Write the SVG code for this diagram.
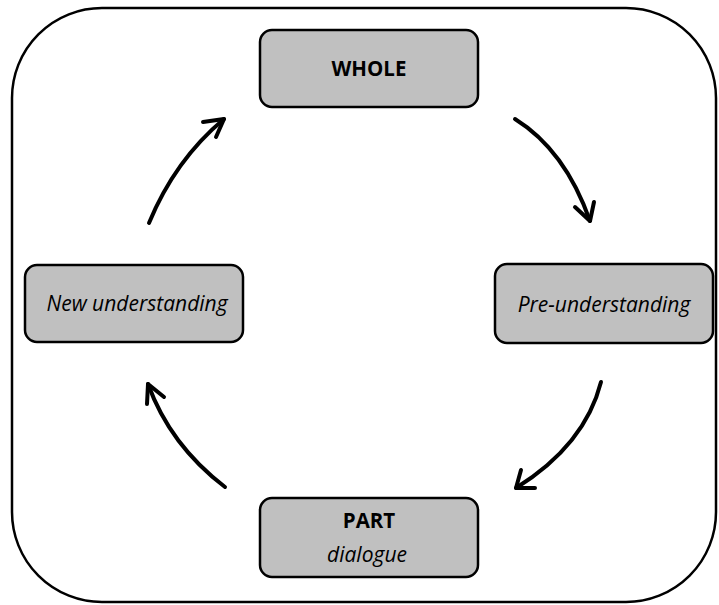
<svg xmlns="http://www.w3.org/2000/svg" width="719" height="605" viewBox="0 0 719 605">
  <defs>
    <style>
      .frame { fill: none; stroke: #000; stroke-width: 2.5; }
      .box { fill: #c0c0c0; stroke: #000; stroke-width: 2.5; }
      .lbl { font-family: "Open Sans", "Liberation Sans", sans-serif; fill: #000; text-anchor: middle; }
      .b { font-weight: bold; font-size: 20.5px; }
      .i { font-style: italic; font-size: 21px; }
      .arc { fill: none; stroke: #000; stroke-width: 4; stroke-linecap: round; stroke-linejoin: round; }
    </style>
  </defs>

  <rect class="frame" x="12" y="8" width="704" height="594" rx="90" ry="90"/>

  <g id="whole">
    <rect class="box" x="260" y="30" width="218" height="77" rx="12" ry="12"/>
    <text class="lbl b" x="369" y="76">WHOLE</text>
  </g>

  <g id="pre-understanding">
    <rect class="box" x="495" y="264" width="218" height="79" rx="12" ry="12"/>
    <text class="lbl i" x="604" y="312">Pre-understanding</text>
  </g>

  <g id="part">
    <rect class="box" x="260" y="498" width="218" height="79" rx="12" ry="12"/>
    <text class="lbl b" x="369" y="528">PART</text>
    <text class="lbl i" x="367" y="562">dialogue</text>
  </g>

  <g id="new-understanding">
    <rect class="box" x="25" y="265" width="218" height="77" rx="12" ry="12"/>
    <text class="lbl i" x="137" y="311">New understanding</text>
  </g>

  <g id="connectors">
    <path class="arc" d="M515,119 Q565,150 590,221"/>
    <path class="arc" d="M575,207 L590,221 L594,202"/>

    <path class="arc" d="M601,382 Q585,445 516,488"/>
    <path class="arc" d="M521,470 L516,488 L535,488"/>

    <path class="arc" d="M225,487 Q170,445 148,384"/>
    <path class="arc" d="M147,404 L148,384 L164,397"/>

    <path class="arc" d="M149,223 Q175,160 224,119"/>
    <path class="arc" d="M203,122 L224,119 L216,137"/>
  </g>
</svg>
